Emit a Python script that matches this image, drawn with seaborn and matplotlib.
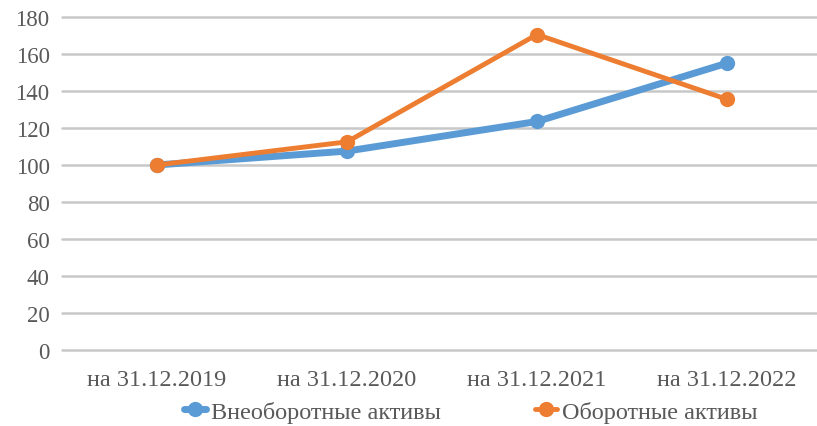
import pandas as pd
import numpy as np
import matplotlib.pyplot as plt
import seaborn as sns
from matplotlib.lines import Line2D

# data
dates = ["на 31.12.2019", "на 31.12.2020", "на 31.12.2021", "на 31.12.2022"]
non_current = [100, 107.5, 123.5, 155]
current = [100, 112.5, 170.5, 135.5]
series_names = ["Внеоборотные активы", "Оборотные активы"]
colors = ["#5B9BD5", "#ED7D31"]

df = pd.DataFrame({
    "date": dates * 2,
    "value": non_current + current,
    "series": [series_names[0]] * 4 + [series_names[1]] * 4,
})

sns.set_style("white")
plt.rcParams["font.family"] = ["Liberation Serif", "DejaVu Serif"]

fig = plt.figure(figsize=(8.17, 4.27), dpi=100)
ax = fig.add_axes([0.076, 0.178, 0.93, 0.78])

x = np.arange(len(dates))
widths = [5, 3.5]
for name, col, lw in zip(series_names, colors, widths):
    sub = df[df["series"] == name]
    sns.lineplot(x=x, y=sub["value"].values, ax=ax, color=col, linewidth=lw,
                 marker="o", markersize=11, markeredgewidth=0, legend=False)

ax.set_xlim(-0.5, 3.5)
ax.set_ylim(0, 180)
ax.set_yticks(range(0, 181, 20))
ax.set_xticks(x)
ax.set_xticklabels(dates)
ax.yaxis.grid(True, color="#c8c8c8", linewidth=1.8)
for gl in ax.get_ygridlines():
    gl.set_clip_on(False)
ax.set_axisbelow(True)
for s in ax.spines.values():
    s.set_visible(False)
ax.tick_params(axis="y", length=0, labelsize=16.5, colors="#595959", pad=9)
ax.tick_params(axis="x", length=0, labelsize=17.5, colors="#595959", pad=14)
ax.set_xlabel("")
ax.set_ylabel("")

handles = [Line2D([0], [0], color=c, linewidth=lw, marker="o", markersize=11,
                  markeredgewidth=0) for c, lw in zip(colors, widths)]
ax.legend(handles, series_names, loc="center", bbox_to_anchor=(0.538, -0.185),
          ncol=2, frameon=False, fontsize=17.5, labelcolor="#595959",
          handlelength=0.9, handletextpad=0.2, columnspacing=3.9,
          borderpad=0, borderaxespad=0)

fig.savefig("out.png", dpi=100)
